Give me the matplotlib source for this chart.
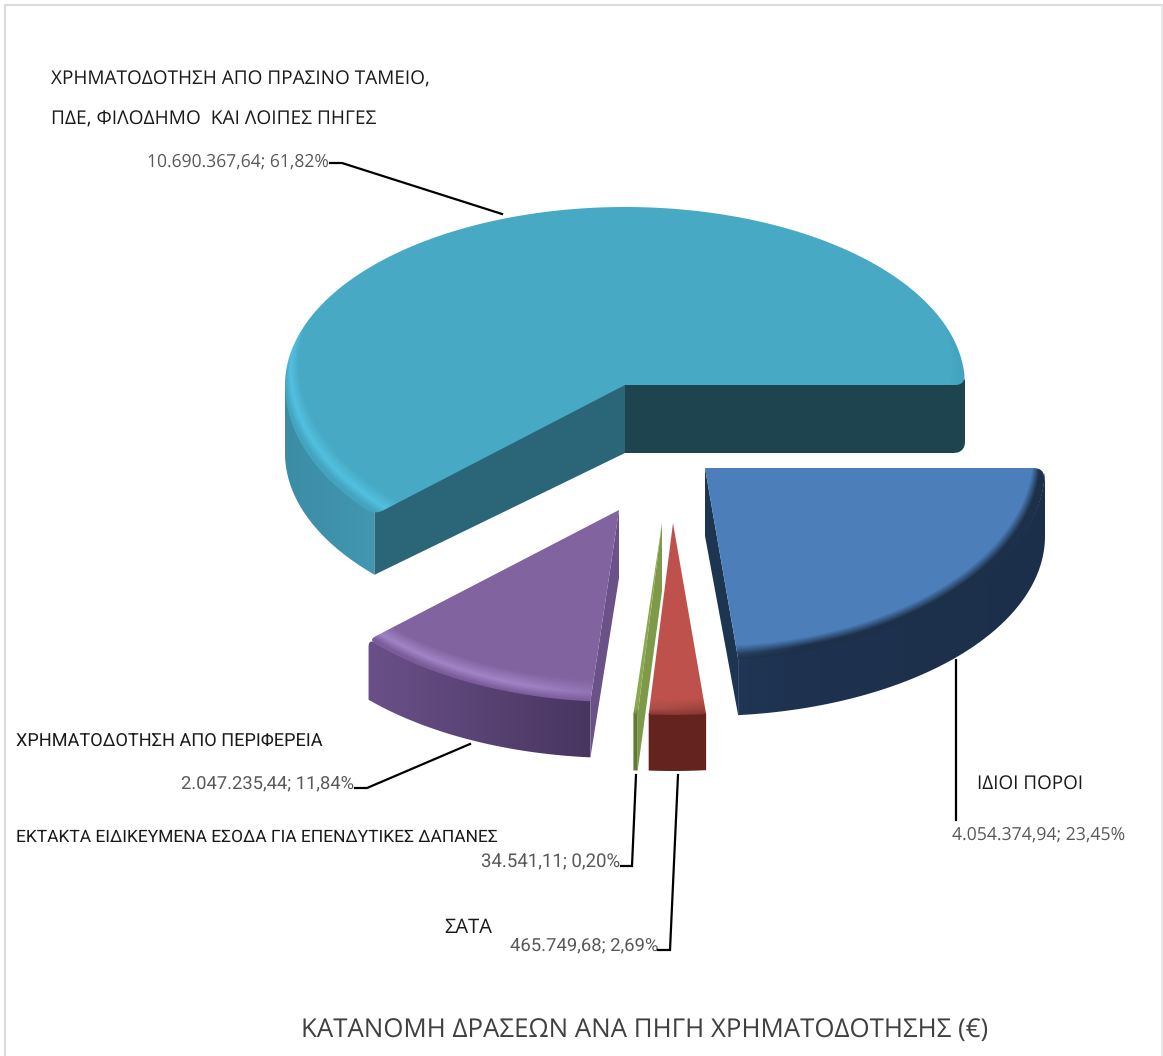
import numpy as np
import matplotlib
matplotlib.use("Agg")
import matplotlib.pyplot as plt
from matplotlib.colors import to_rgb
from matplotlib.path import Path
from matplotlib.patches import PathPatch

plt.rcParams["text.hinting"] = "none"

# values, in the order they run counter clockwise from 3 o'clock
names = ["big", "purple", "green", "red", "blue"]
values = [10690367.64, 2047235.44, 34541.11, 465749.68, 4054374.94]
percents = [61.82, 11.84, 0.20, 2.69, 23.45]

title = "ΚΑΤΑΝΟΜΗ ΔΡΑΣΕΩΝ ΑΝΑ ΠΗΓΗ ΧΡΗΜΑΤΟΔΟΤΗΣΗΣ (€)"
cat_big_1 = "ΧΡΗΜΑΤΟΔΟΤΗΣΗ ΑΠΟ ΠΡΑΣΙΝΟ ΤΑΜΕΙΟ,"
cat_big_2 = "ΠΔΕ, ΦΙΛΟΔΗΜΟ  ΚΑΙ ΛΟΙΠΕΣ ΠΗΓΕΣ"
cat_purple = "ΧΡΗΜΑΤΟΔΟΤΗΣΗ ΑΠΟ ΠΕΡΙΦΕΡΕΙΑ"
cat_green = "ΕΚΤΑΚΤΑ ΕΙΔΙΚΕΥΜΕΝΑ ΕΣΟΔΑ ΓΙΑ ΕΠΕΝΔΥΤΙΚΕΣ ΔΑΠΑΝΕΣ"
cat_red = "ΣΑΤΑ"
cat_blue = "ΙΔΙΟΙ ΠΟΡΟΙ"

# pixel layout of the picture
W, H = 1163, 1056
RX, RY_BACK, RY_FRONT = 340, 178, 192
DEPTH_BACK, DEPTH_FRONT = 68, 56
apex = {"big": (625, 385), "purple": (619, 510), "green": (662, 523),
        "red": (673, 523), "blue": (705, 468)}
# flat, highlight, rim, side left, side right, face
colors = {
    "big": ("#47A9C4", "#52C0E0", "#44A4C0", "#3C8CA6", "#4397B1", "#1E444F"),
    "purple": ("#81639F", "#A184C6", "#7A5C9A", "#6A5088", "#483560", "#6A5288"),
    "green": ("#8AA94F", "#93B455", "#6A8A3C", "#5E7A34", "#5E7A34", "#7E9A48"),
    "red": ("#BE514C", "#C4605A", "#8A3531", "#65231F", "#65231F", "#65231F"),
    "blue": ("#4C7EBA", "#3F6CA3", "#1D3049", "#22385A", "#1C2F4A", "#1D3550"),
}
left_face = "#2B6578"
bevel = {"big": (22, 14), "purple": (22, 12), "green": (14, 3), "red": (16, 6), "blue": (14, 12)}
wall_gamma = {"big": 1, "purple": 1, "green": 1, "red": 1, "blue": 0.3}
corner = {"big": (10, 10), "purple": (8, 0), "green": (0, 0), "red": (0, 0), "blue": (0, 12)}

fig = plt.figure(figsize=(W / 100, H / 100), dpi=100)
ax = fig.add_axes([0, 0, 1, 1])


def rim(name, t):
    t = np.asarray(t, dtype=float)
    ax0, ay0 = apex[name]
    ry = np.where(np.sin(t) > 0, RY_BACK, RY_FRONT)
    return ax0 + RX * np.cos(t), ay0 - ry * np.sin(t)


def depth(t):
    return DEPTH_BACK - (DEPTH_BACK - DEPTH_FRONT) * np.clip(-np.sin(t), 0, 1)


def walk(v, i, r, step):
    # point at distance r from vertex i along a closed polygon
    n, d, j = len(v), 0.0, i
    while True:
        k = (j + step) % n
        seg = np.linalg.norm(v[k] - v[j])
        if d + seg >= r:
            return k, v[j] + (v[k] - v[j]) * (r - d) / seg
        d += seg
        j = k


def round_at(xs, ys, i, r):
    # swap a sharp vertex of a polygon for a small curve
    if r <= 0:
        return xs, ys
    v = np.column_stack([xs, ys])
    n = len(v)
    i = i % n
    k1, p1 = walk(v, i, r, -1)
    k2, p2 = walk(v, i, r, 1)
    s = np.linspace(0, 1, 12)[:, None]
    curve = (1 - s) ** 2 * p1 + 2 * s * (1 - s) * v[i] + s ** 2 * p2
    rest = [v[(k2 + m) % n] for m in range((k1 - k2) % n + 1)]
    out = np.vstack([curve, rest])
    return out[:, 0], out[:, 1]


def paint(xs, ys, func, z):
    # fill a polygon with a colour field, clipped to the polygon
    verts = np.column_stack([xs, ys])
    x0, x1 = int(xs.min()) - 2, int(xs.max()) + 3
    y0, y1 = int(ys.min()) - 2, int(ys.max()) + 3
    gx, gy = np.meshgrid(np.arange(x0, x1) + 0.5, np.arange(y0, y1) + 0.5)
    im = ax.imshow(func(gx, gy), extent=(x0, x1, y1, y0), origin="upper",
                   aspect="auto", interpolation="bilinear", zorder=z)
    patch = PathPatch(Path(np.vstack([verts, verts[0]]), closed=True),
                      transform=ax.transData, fc="none", ec="none")
    ax.add_patch(patch)
    im.set_clip_path(patch)


def solid(c):
    rgb = np.array(to_rgb(c))
    return lambda gx, gy: np.ones(gx.shape + (3,)) * rgb


def top_field(name):
    flat, light, edge = [np.array(to_rgb(c)) for c in colors[name][:3]]
    b, inset = bevel[name]
    ax0, ay0 = apex[name]

    def func(gx, gy):
        dx, dy = gx - ax0, gy - ay0
        ry = np.where(dy + b > 0, RY_FRONT, RY_BACK)
        r2 = np.hypot(dx / (RX - inset), (dy + b) / ry)
        th = np.arctan2(-dy, dx)
        rdx = RX * np.cos(th)
        rdy = -np.where(np.sin(th) > 0, RY_BACK, RY_FRONT) * np.sin(th)
        r2_rim = np.hypot(rdx / (RX - inset), (rdy + b) / np.where(rdy + b > 0, RY_FRONT, RY_BACK))
        tt = np.where(r2_rim > 1, (r2 - 1) / np.maximum(r2_rim - 1, 1e-3), 0)
        tt = np.clip(tt, 0, 1)
        # the highlight only shows on the side facing the left
        fade = np.clip(0.5 - dx / 200, 0, 1)[..., None]
        mid = edge + (light - edge) * fade
        out = np.zeros(gx.shape + (3,))
        for i in range(3):
            low = tt < 0.6
            out[..., i] = np.where(low, flat[i] + (mid[..., i] - flat[i]) * tt / 0.6,
                                   mid[..., i] + (edge[i] - mid[..., i]) * (tt - 0.6) / 0.4)
        return out
    return func


def draw_slice(name, a0, a1, z):
    c = colors[name]
    ax0, ay0 = apex[name]
    r0, r1 = corner[name]
    lift = 9 if name == "big" else 0
    # outer wall, only the part facing the viewer
    lo, hi = max(a0, np.pi), min(a1, 2 * np.pi)
    if hi > lo:
        t = np.linspace(lo, hi, 120)
        x, y = rim(name, t)
        xs = np.r_[x, x[::-1]]
        ys = np.r_[y - 1 - lift, (y + depth(t))[::-1]]
        cl, cr = np.array(to_rgb(c[3])), np.array(to_rgb(c[4]))
        x_min, x_max = xs.min(), xs.max()
        gamma = wall_gamma[name]
        if name == "purple":
            xs, ys = round_at(xs, ys, 0, r0)
        if name == "blue":
            xs, ys = round_at(xs, ys, len(t) - 1, r1)

        def wall(gx, gy):
            f = np.clip((gx - x_min) / max(x_max - x_min, 1), 0, 1)[..., None] ** gamma
            return cl + (cr - cl) * f
        paint(xs, ys, wall, z)
    # cut faces
    for end, show in ((a0, np.cos(a0) > 0), (a1, np.cos(a1) < 0)):
        if show:
            rx_, ry_ = rim(name, end)
            xs = np.array([ax0, rx_, rx_, ax0], dtype=float)
            ys = np.array([ay0 - lift, ry_ - lift, ry_ + depth(end), ay0 + DEPTH_BACK], dtype=float)
            col = left_face if name == "big" and end == a1 else c[5]
            if name == "big" and end == a0:
                xs, ys = round_at(xs, ys, 2, 12)
                xs, ys = round_at(xs, ys, int(np.argmin(ys - xs * 0 + (xs < rx_ - 1) * 1e4)), 6)
            paint(xs, ys, solid(col), z + 0.1)
    # top
    t = np.linspace(a0, a1, 300)
    x, y = rim(name, t)
    xs, ys = np.r_[ax0, x], np.r_[ay0, y]
    xs, ys = round_at(xs, ys, 1, r0)
    k = int(np.argmin(np.hypot(xs - x[-1], ys - y[-1])))
    xs, ys = round_at(xs, ys, k, r1)
    paint(xs, ys, top_field(name), z + 0.2)


def label(s, x0, x1, yc, color, family):
    # font size chosen so the text spans the same width as in the picture
    tx = ax.text(x0, yc + 2, s, color=color, family=family, fontsize=12, va="center", ha="left")
    w = tx.get_window_extent(fig.canvas.get_renderer()).width
    tx.set_fontsize(12 * (x1 - x0) / w)


def amount(v, p):
    whole = f"{v:,.2f}".replace(",", "#").replace(".", ",").replace("#", ".")
    return whole + "; " + f"{p:.2f}".replace(".", ",") + "%"


angles = 2 * np.pi * np.cumsum([0] + values) / sum(values)
for i, name in enumerate(names):
    draw_slice(name, angles[i], angles[i + 1], 2 + i)

ax.set_xlim(0, W)
ax.set_ylim(H, 0)
ax.axis("off")

# frame of the picture
ax.plot([5, 5], [H, 5], color="#D9D9D9", lw=1.4, zorder=1)
ax.plot([5, W - 1], [5, 5], color="#D9D9D9", lw=1.4, zorder=1)
ax.plot([W - 1, W - 1], [5, H], color="#E4E4E4", lw=1.2, zorder=1)

# leader lines
leaders = [
    ([330, 342, 502], [163, 163, 214]),
    ([355, 367, 470], [788, 788, 744]),
    ([621, 632, 636], [866, 866, 775]),
    ([658, 670, 678], [950, 950, 775]),
    ([956, 956], [660, 820]),
]
for lx, ly in leaders:
    ax.plot(lx, ly, color="black", lw=1.6, zorder=10, solid_joinstyle="miter")

NORMAL = ["Open Sans", "DejaVu Sans"]
NARROW = ["Roboto", "Open Sans", "DejaVu Sans"]
DARK = "#1A1A1A"
GREY = "#595959"
label(cat_big_1, 51, 430, 78, DARK, NORMAL)
label(cat_big_2, 51, 376, 118, DARK, NORMAL)
label(amount(values[0], percents[0]), 147, 329, 160, GREY, NORMAL)
label(cat_purple, 16, 323, 740, DARK, NARROW)
label(amount(values[1], percents[1]), 181, 354, 783, GREY, NARROW)
label(cat_green, 16, 498, 835, DARK, NARROW)
label(amount(values[2], percents[2]), 481, 620, 860, GREY, NARROW)
label(cat_red, 444, 492, 926, DARK, NORMAL)
label(amount(values[3], percents[3]), 510, 658, 945, GREY, NARROW)
label(cat_blue, 977, 1083, 782, DARK, NORMAL)
label(amount(values[4], percents[4]), 952, 1125, 833, GREY, NORMAL)
label(title, 301, 988, 1028, "#404040", NORMAL)

fig.savefig("out.png", dpi=100)
